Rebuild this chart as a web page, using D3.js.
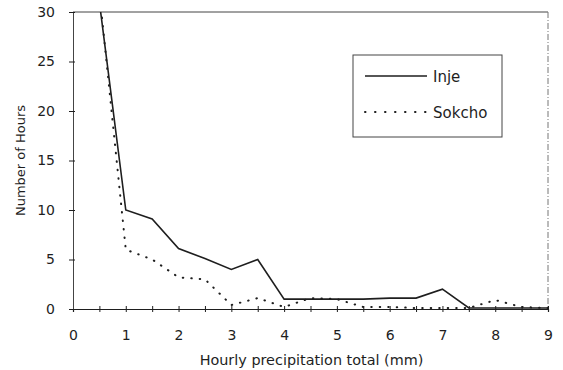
<!DOCTYPE html>
<html>
<head>
<meta charset="utf-8">
<script src="https://cdn.jsdelivr.net/npm/d3@7"></script>
<style>
  body { margin: 0; background: #fff; }
  svg { display: block; font-family: "DejaVu Sans", sans-serif; }
</style>
</head>
<body>
<svg class="svg"></svg>
<script>
let precip = [0.5, 1, 1.5, 2, 2.5, 3, 3.5, 4, 4.5, 5, 5.5, 6, 6.5, 7, 7.5, 8, 8.5, 9]
let inje   = [31, 10, 9.1, 6.1, 5.1, 4.0, 5.0, 1.0, 1.0, 1.0, 1.0, 1.1, 1.1, 2.0, 0.1, 0.1, 0.1, 0.1]
let sokcho = [32, 6.0, 5.0, 3.2, 3.0, 0.4, 1.1, 0.2, 1.1, 1.0, 0.2, 0.2, 0.1, 0.1, 0.1, 0.9, 0.2, 0.1]
let xTicks = [0, 0.5, 1, 1.5, 2, 2.5, 3, 3.5, 4, 4.5, 5, 5.5, 6, 6.5, 7, 7.5, 8, 8.5, 9]
let yTicks = [0, 5, 10, 15, 20, 25, 30]
let seriesNames = ["Inje", "Sokcho"]

let W = 563, H = 370
let plotL = 73, plotR = 548, plotT = 12, plotB = 309
let ink = "#1e1e1e"

let svg = d3.select(".svg").attr("width", W).attr("height", H)

let x = d3.scaleLinear().domain([0, 9]).range([plotL, plotR])
let y = d3.scaleLinear().domain([0, 30]).range([plotB, plotT])

svg.append("clipPath").attr("id", "plot")
    .append("rect")
    .attr("x", plotL).attr("y", plotT)
    .attr("width", plotR - plotL).attr("height", plotB - plotT)

// frame: top solid, right broken
svg.append("line")
    .attr("x1", plotL).attr("x2", plotR).attr("y1", plotT).attr("y2", plotT)
    .attr("stroke", "#444").attr("stroke-width", 1)
svg.append("line")
    .attr("x1", plotR).attr("x2", plotR).attr("y1", plotT).attr("y2", plotB)
    .attr("stroke", "#777").attr("stroke-width", 1)
    .attr("stroke-dasharray", "6,2,1,2")

let xAxis = d3.axisBottom(x)
    .tickValues(xTicks)
    .tickSize(3)
    .tickFormat(d => Number.isInteger(d) ? d : "")
let gx = svg.append("g").attr("transform", `translate(0,${plotB})`).call(xAxis)
gx.select(".domain").attr("stroke", ink).attr("stroke-width", 1.2)
gx.selectAll(".tick line").attr("y1", -3).attr("y2", 3).attr("stroke", ink)
gx.selectAll(".tick text")
    .attr("y", 21)
    .attr("fill", ink)
    .style("font-size", "14px")

let yAxis = d3.axisLeft(y)
    .tickValues(yTicks)
    .tickSize(3)
let gy = svg.append("g").attr("transform", `translate(${plotL},0)`).call(yAxis)
gy.select(".domain").attr("stroke", "#444").attr("stroke-width", 1)
gy.selectAll(".tick line").attr("x1", -4).attr("x2", 2).attr("stroke", ink)
gy.selectAll(".tick text")
    .attr("x", -18)
    .attr("fill", ink)
    .style("font-size", "14px")
gx.attr("font-family", null)
gy.attr("font-family", null)

let line = d3.line()
    .x((d, i) => x(precip[i]))
    .y(d => y(d))

svg.append("path")
    .datum(inje)
    .attr("clip-path", "url(#plot)")
    .attr("d", line)
    .attr("fill", "none")
    .attr("stroke", ink)
    .attr("stroke-width", 1.6)

svg.append("path")
    .datum(sokcho)
    .attr("clip-path", "url(#plot)")
    .attr("d", line)
    .attr("fill", "none")
    .attr("stroke", ink)
    .attr("stroke-width", 2)
    .attr("stroke-linecap", "round")
    .attr("stroke-dasharray", "0.5,8")

// axis titles
svg.append("text")
    .attr("x", (plotL + plotR) / 2 + 1)
    .attr("y", 365)
    .attr("text-anchor", "middle")
    .attr("fill", ink)
    .style("font-size", "14.4px")
    .text("Hourly precipitation total (mm)")

svg.append("text")
    .attr("transform", `translate(25,${(plotT + plotB) / 2}) rotate(-90)`)
    .attr("text-anchor", "middle")
    .attr("fill", ink)
    .style("font-size", "13px")
    .text("Number of Hours")

// legend
let legend = svg.append("g").attr("transform", "translate(353,55)")
legend.append("rect")
    .attr("width", 149).attr("height", 82)
    .attr("fill", "#fff").attr("stroke", "#444").attr("stroke-width", 1)

let legendItems = legend.selectAll(".item")
    .data(seriesNames)
    .enter()
    .append("g")
    .attr("class", "item")
    .attr("transform", (d, i) => `translate(0,${21 + i * 36})`)

legendItems.append("line")
    .attr("x1", 12).attr("x2", 74)
    .attr("stroke", ink)
    .attr("stroke-width", (d, i) => i === 0 ? 1.6 : 2)
    .attr("stroke-linecap", (d, i) => i === 0 ? "butt" : "round")
    .attr("stroke-dasharray", (d, i) => i === 0 ? null : "0.5,9.5")

legendItems.append("text")
    .attr("x", 80)
    .attr("y", 6)
    .attr("fill", ink)
    .style("font-size", "15px")
    .text(d => d)
</script>
</body>
</html>
